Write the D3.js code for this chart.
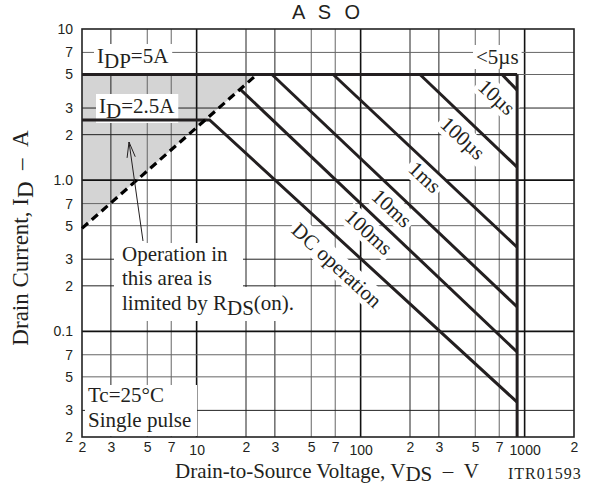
<!DOCTYPE html>
<html>
<head>
<meta charset="utf-8">
<title>A S O</title>
<script src="https://cdn.jsdelivr.net/npm/d3@7"></script>
<style>
  body { margin: 0; background: #fff; }
</style>
</head>
<body>
<script>

// axis ticks
var xTicks = [2, 3, 5, 7, 10, 20, 30, 50, 70, 100, 200, 300, 500, 700, 1000, 2000];
var xTickLabels = ["2", "3", "5", "7", "10", "2", "3", "5", "7", "100", "2", "3", "5", "7", "1000", "2"];
var yTicks = [10, 7, 5, 3, 2, 1, 0.7, 0.5, 0.3, 0.2, 0.1, 0.07, 0.05, 0.03, 0.02];
var yTickLabels = ["10", "7", "5", "3", "2", "1.0", "7", "5", "3", "2", "0.1", "7", "5", "3", "2"];

// limit lines, points as [V, A]
var idpLine = [[2, 5], [900, 5]];
var vdssLine = [[900, 5], [900, 0.02]];
var dcLine = [[2, 2.5], [12, 2.5], [900, 0.034]];
var ms100Line = [[18.4, 4.0], [900, 0.073]];
var ms10Line = [[28.8, 5], [900, 0.145]];
var ms1Line = [[68, 5], [900, 0.36]];
var us100Line = [[230, 5], [900, 1.22]];
var us10Line = [[728, 5], [900, 3.94]];
var rdsLine = [[2, 0.48], [23.3, 5]];

var W = 595, H = 486;
var pLeft = 82, pRight = 574, pTop = 29, pBottom = 437;
var serif = "'Liberation Serif','Times New Roman',serif";
var sans = "'Liberation Sans',Arial,sans-serif";
var ink = "#231f20";

var x = d3.scaleLog().domain([2, 2000]).range([pLeft, pRight]);
var y = d3.scaleLog().domain([0.02, 10]).range([pBottom, pTop]);
var line = d3.line().x(function(d){ return x(d[0]); }).y(function(d){ return y(d[1]); });

var svg = d3.select("body").append("svg").attr("width", W).attr("height", H);

// shaded Rds(on) area
svg.append("path")
  .datum([[2, 5], rdsLine[1], rdsLine[0]])
  .attr("d", function(d){ return line(d) + "Z"; })
  .attr("fill", "#d4d4d4");

// grid
function mant(d){ return Math.round(d / Math.pow(10, Math.floor(Math.log10(d) + 1e-9))); }
function gridColor(d){ var m = mant(d); return m == 1 ? "#111" : (m == 5 || m == 7) ? "#666" : "#222"; }
function gridWidth(d){ return mant(d) == 1 ? 1.6 : 1; }

var grid = svg.append("g");
grid.selectAll(".vx").data(xTicks.slice(1, -1)).enter().append("line")
  .attr("x1", function(d){ return x(d); }).attr("x2", function(d){ return x(d); })
  .attr("y1", pTop).attr("y2", pBottom)
  .attr("stroke", gridColor).attr("stroke-width", gridWidth);
grid.selectAll(".hy").data(yTicks.slice(1, -1)).enter().append("line")
  .attr("y1", function(d){ return y(d); }).attr("y2", function(d){ return y(d); })
  .attr("x1", pLeft).attr("x2", pRight)
  .attr("stroke", gridColor).attr("stroke-width", gridWidth);

svg.append("rect").attr("x", pLeft).attr("y", pTop)
  .attr("width", pRight - pLeft).attr("height", pBottom - pTop)
  .attr("fill", "none").attr("stroke", "#222").attr("stroke-width", 1.6);

var boxLayer = svg.append("g");
var lineLayer = svg.append("g");
var textLayer = svg.append("g").attr("font-family", serif).attr("fill", ink);

// limit lines
[idpLine, vdssLine, dcLine, ms100Line, ms10Line, ms1Line, us100Line, us10Line].forEach(function(l){
  lineLayer.append("path").attr("d", line(l))
    .attr("fill", "none").attr("stroke", ink).attr("stroke-width", 3);
});
lineLayer.append("path").attr("d", line(rdsLine))
  .attr("fill", "none").attr("stroke", "#000").attr("stroke-width", 3.2)
  .attr("stroke-dasharray", "8,5");

// text helper, parts: [text, isSub]
function addParts(t, parts, sub){
  var shift = 0, s = sub || 5;
  parts.forEach(function(p){
    var want = p[1] ? s : 0;
    t.append("tspan").attr("dy", want - shift).text(p[0]);
    shift = want;
  });
  return t;
}
function boxFor(t, transform, px, py){
  var bb = t.node().getBBox();
  var r = boxLayer.append("rect")
    .attr("x", bb.x - px).attr("y", bb.y - py)
    .attr("width", bb.width + 2 * px).attr("height", bb.height + 2 * py)
    .attr("fill", "#fff");
  if (transform) r.attr("transform", transform);
}

// flat labels
function flatLabel(parts, tx, ty){
  var t = addParts(textLayer.append("text").attr("x", tx).attr("y", ty).attr("font-size", 21), parts);
  boxFor(t, null, 3, 0);
}
flatLabel([["I"], ["DP", 1], ["=5A"]], 97, 63);
flatLabel([["I"], ["D", 1], ["=2.5A"]], 99, 113);
flatLabel([["<5µs"]], 476, 64);

// labels along the power lines
var ang = Math.atan2(y(0.5) - y(5), x(20) - x(2)) * 180 / Math.PI;
function diagLabel(txt, cx, cy){
  var tr = "translate(" + cx + "," + cy + ") rotate(" + ang + ")";
  var t = textLayer.append("text").attr("transform", tr)
    .attr("text-anchor", "middle").attr("dy", "0.35em").attr("font-size", 21).text(txt);
  boxFor(t, tr, 3, 0);
}
diagLabel("10µs", 497, 97);
diagLabel("100µs", 463, 138);
diagLabel("1ms", 425, 177);
diagLabel("10ms", 392, 208);
diagLabel("100ms", 369, 232);
diagLabel("DC operation", 337, 265);

// Rds note
boxLayer.append("rect").attr("x", 114).attr("y", 243).attr("width", 129).attr("height", 47).attr("fill", "#fff");
boxLayer.append("rect").attr("x", 114).attr("y", 287).attr("width", 184).attr("height", 34).attr("fill", "#fff");
textLayer.append("text").attr("x", 122).attr("y", 261).attr("font-size", 21).text("Operation in");
textLayer.append("text").attr("x", 122).attr("y", 285).attr("font-size", 21).text("this area is");
addParts(textLayer.append("text").attr("x", 122).attr("y", 310).attr("font-size", 21),
  [["limited by R"], ["DS", 1], ["(on)."]]);

// arrow into the shaded area
var tail = [143, 241], tip = [129, 142];
textLayer.append("line").attr("x1", tail[0]).attr("y1", tail[1]).attr("x2", tip[0]).attr("y2", tip[1])
  .attr("stroke", ink).attr("stroke-width", 1);
var a0 = Math.atan2(tail[1] - tip[1], tail[0] - tip[0]);
[-0.26, 0.26].forEach(function(da){
  textLayer.append("line").attr("x1", tip[0]).attr("y1", tip[1])
    .attr("x2", tip[0] + 16 * Math.cos(a0 + da)).attr("y2", tip[1] + 16 * Math.sin(a0 + da))
    .attr("stroke", ink).attr("stroke-width", 1);
});

// conditions
boxLayer.append("rect").attr("x", 85).attr("y", 385).attr("width", 112).attr("height", 51).attr("fill", "#fff");
textLayer.append("text").attr("x", 88).attr("y", 402).attr("font-size", 21).text("Tc=25°C");
textLayer.append("text").attr("x", 88).attr("y", 427).attr("font-size", 21).text("Single pulse");

// axes (labels only)
var yAxis = svg.append("g").attr("transform", "translate(" + pLeft + ",0)")
  .call(d3.axisLeft(y).tickValues(yTicks).tickSize(0).tickPadding(9)
    .tickFormat(function(d, i){ return yTickLabels[i]; }));
var xAxis = svg.append("g").attr("transform", "translate(0," + pBottom + ")")
  .call(d3.axisBottom(x).tickValues(xTicks).tickSize(0).tickPadding(5)
    .tickFormat(function(d, i){ return xTickLabels[i]; }));
[xAxis, yAxis].forEach(function(ax){
  ax.select(".domain").remove();
  ax.selectAll("text").attr("font-family", sans).attr("font-size", 14).attr("fill", ink);
});
xAxis.selectAll(".tick text").filter(function(d){ return mant(d) == 1; }).attr("y", 8);

// titles
svg.append("text").attr("x", 328).attr("y", 19).attr("text-anchor", "middle")
  .attr("font-family", sans).attr("font-size", 20).attr("letter-spacing", 4)
  .attr("fill", ink).text("A S O");

addParts(svg.append("text").attr("x", 175).attr("y", 478)
  .attr("font-family", serif).attr("font-size", 21).attr("fill", ink),
  [["Drain-to-Source Voltage, V"], ["DS", 1], ["\u00a0\u00a0–\u00a0\u00a0V"]], 3);

svg.append("text").attr("x", 508).attr("y", 479)
  .attr("font-family", serif).attr("font-size", 16).attr("letter-spacing", 1)
  .attr("fill", ink).text("ITR01593");

addParts(svg.append("text").attr("transform", "translate(28,238) rotate(-90)")
  .attr("text-anchor", "middle")
  .attr("font-family", serif).attr("font-size", 23).attr("fill", ink),
  [["Drain Current, I"], ["D", 1], ["\u00a0\u00a0–\u00a0\u00a0A"]]);

</script>
</body>
</html>
